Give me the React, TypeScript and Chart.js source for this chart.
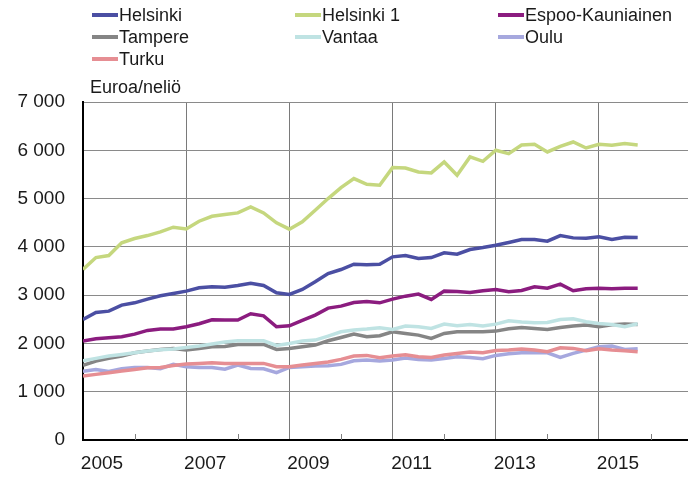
import React, { useEffect, useRef } from "react";
import { Chart, registerables } from "chart.js";

Chart.register(...registerables);

const years = ["2005", "2006", "2007", "2008", "2009", "2010", "2011", "2012", "2013", "2014", "2015"];
const quarterNames = ["Q1", "Q2", "Q3", "Q4"];
const quarters: string[] = years.flatMap((y) => quarterNames.map((q) => `${y}${q}`));

const seriesNames = ["Helsinki", "Helsinki 1", "Espoo-Kauniainen", "Tampere", "Vantaa", "Oulu", "Turku"];
const seriesColors = ["#4B4FA3", "#C5D77E", "#8B1C7F", "#858585", "#BFE3E3", "#A6A8DE", "#E68E93"];

const helsinki = [2497, 2641, 2669, 2793, 2841, 2917, 2986, 3034, 3083, 3152, 3172, 3165,
  3200, 3248, 3200, 3048, 3014, 3117, 3276, 3448, 3531, 3641, 3628, 3641,
  3793, 3821, 3759, 3779, 3876, 3848, 3945, 3986, 4034, 4090, 4150, 4152,
  4117, 4234, 4186, 4179, 4207, 4152, 4200, 4193];
const helsinki1 = [3531, 3779, 3820, 4083, 4172, 4234, 4310, 4407, 4372, 4531, 4634, 4669,
  4703, 4828, 4703, 4497, 4366, 4517, 4759, 5000, 5228, 5414, 5297, 5276,
  5641, 5634, 5552, 5531, 5759, 5483, 5862, 5772, 6000, 5931, 6110, 6124,
  5966, 6083, 6172, 6048, 6124, 6103, 6138, 6110];
const espoo = [2048, 2097, 2117, 2138, 2193, 2269, 2297, 2297, 2345, 2407, 2490, 2483,
  2483, 2614, 2572, 2345, 2366, 2476, 2586, 2731, 2772, 2848, 2869, 2841,
  2917, 2979, 3021, 2910, 3083, 3076, 3055, 3090, 3117, 3069, 3097, 3172,
  3145, 3228, 3090, 3131, 3145, 3131, 3145, 3145];
const tampere = [1545, 1634, 1690, 1738, 1807, 1841, 1876, 1897, 1862, 1897, 1931, 1938,
  1979, 1979, 1979, 1876, 1897, 1931, 1966, 2055, 2124, 2193, 2138, 2159,
  2241, 2207, 2172, 2103, 2207, 2241, 2241, 2241, 2255, 2303, 2328, 2310,
  2290, 2331, 2359, 2379, 2345, 2386, 2400, 2393];
const vantaa = [1641, 1690, 1738, 1772, 1807, 1841, 1869, 1883, 1917, 1945, 1986, 2028,
  2055, 2055, 2055, 1959, 2000, 2048, 2069, 2152, 2241, 2276, 2297, 2324,
  2290, 2359, 2345, 2310, 2400, 2366, 2393, 2359, 2400, 2469, 2445, 2428,
  2434, 2497, 2510, 2448, 2414, 2393, 2345, 2407];
const oulu = [1421, 1462, 1421, 1476, 1503, 1503, 1476, 1566, 1517, 1503, 1503, 1465,
  1552, 1483, 1476, 1393, 1503, 1517, 1531, 1538, 1566, 1641, 1655, 1634,
  1655, 1697, 1669, 1655, 1690, 1724, 1710, 1683, 1752, 1786, 1807, 1807,
  1807, 1710, 1793, 1862, 1931, 1945, 1876, 1890];
const turku = [1324, 1359, 1393, 1428, 1462, 1497, 1503, 1545, 1572, 1586, 1600, 1586,
  1586, 1586, 1586, 1517, 1517, 1552, 1586, 1614, 1669, 1738, 1752, 1703,
  1738, 1766, 1724, 1710, 1759, 1793, 1821, 1807, 1855, 1862, 1887, 1862,
  1828, 1910, 1897, 1848, 1890, 1862, 1848, 1828];

const seriesValues = [helsinki, helsinki1, espoo, tampere, vantaa, oulu, turku];
const yTicks = [0, 1000, 2000, 3000, 4000, 5000, 6000, 7000];

const FONT = "'Liberation Sans', Arial, sans-serif";

const minorTicks = {
  id: "minorTicks",
  afterDraw(chart: any) {
    const x = chart.scales.x;
    const bottom = chart.chartArea.bottom;
    const ctx = chart.ctx;
    ctx.save();
    ctx.strokeStyle = "#808080";
    ctx.lineWidth = 1;
    for (let i = 4; i < quarters.length + 4; i += 8) {
      const px = Math.round(x.getPixelForValue(i)) + 0.5;
      ctx.beginPath();
      ctx.moveTo(px, bottom);
      ctx.lineTo(px, bottom - 6);
      ctx.stroke();
    }
    ctx.restore();
  },
};

export default function App() {
  const ref = useRef<HTMLCanvasElement | null>(null);

  useEffect(() => {
    document.body.style.margin = "0";
    if (!ref.current) return;
    const datasets = seriesNames.map((name, i) => ({
      label: name,
      data: seriesValues[i].map((v, j) => ({ x: j, y: v })),
      borderColor: seriesColors[i],
      backgroundColor: seriesColors[i],
      borderWidth: 3.5,
      pointRadius: 0,
      tension: 0,
      order: seriesNames.length - i,
    }));
    const chart = new Chart(ref.current, {
      type: "line",
      data: { datasets },
      options: {
        animation: false,
        responsive: false,
        layout: { padding: { top: 102, left: 0, right: 0, bottom: 0 } },
        plugins: { legend: { display: false }, tooltip: { enabled: false }, title: { display: false } },
        scales: {
          x: {
            type: "linear",
            min: 0,
            max: 46.9,
            afterFit: (s: any) => { s.height = 38; },
            ticks: {
              stepSize: 4,
              includeBounds: false,
              autoSkip: false,
              maxRotation: 0,
              labelOffset: 19,
              padding: 12,
              color: "#1a1a1a",
              font: { family: FONT, size: 19 },
              callback: (v: any) => (Number(v) % 8 === 0 ? quarters[Number(v)]?.slice(0, 4) ?? "" : ""),
            },
            grid: {
              drawTicks: false,
              color: (c: any) => (c.tick && c.tick.value % 8 === 0 && c.tick.value > 0 ? "#7a7a7a" : "transparent"),
              lineWidth: 1,
            },
            border: { color: "#000", width: 2 },
          },
          y: {
            min: 0,
            max: 7000,
            afterFit: (s: any) => { s.width = 83; },
            afterBuildTicks: (s: any) => { s.ticks = yTicks.map((v) => ({ value: v })); },
            ticks: {
              padding: 18,
              color: "#1a1a1a",
              font: { family: FONT, size: 19 },
              callback: (v: any) => String(v).replace(/\B(?=(\d{3})+(?!\d))/g, " "),
            },
            grid: { drawTicks: false, color: "#8a8a8a", lineWidth: 1 },
            border: { color: "#000", width: 2 },
          },
        },
      },
      plugins: [minorTicks],
    });
    return () => chart.destroy();
  }, []);

  const cols = [92, 295, 498];
  const rows = [15, 37, 59];

  return (
    <div style={{ position: "absolute", left: 0, top: 0, width: 688, height: 478, background: "#fff", fontFamily: FONT }}>
      <canvas ref={ref} width={688} height={478} style={{ position: "absolute", left: 0, top: 0 }} />
      {seriesNames.map((name, i) => (
        <div
          key={name}
          style={{
            position: "absolute",
            left: cols[i % 3],
            top: rows[Math.floor(i / 3)] - 11,
            height: 22,
            display: "flex",
            alignItems: "center",
            fontSize: 18,
            color: "#1a1a1a",
            whiteSpace: "nowrap",
          }}
        >
          <span style={{ display: "inline-block", width: 26, height: 4, background: seriesColors[i], marginRight: 1 }} />
          {name}
        </div>
      ))}
      <div style={{ position: "absolute", left: 90, top: 76, fontSize: 18, color: "#1a1a1a", lineHeight: "22px" }}>
        Euroa/neliö
      </div>
    </div>
  );
}
